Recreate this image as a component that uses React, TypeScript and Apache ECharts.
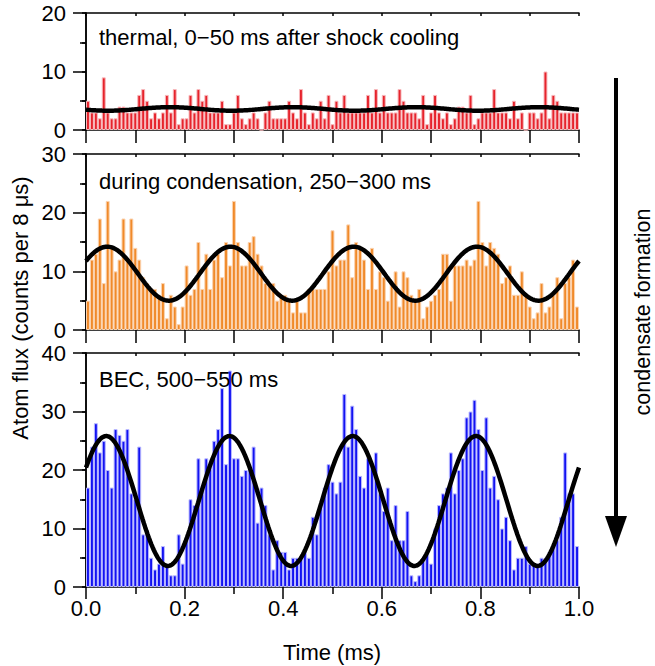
import React, { useEffect, useRef } from "react";
import * as echarts from "echarts";

// Histogram: 125 bins of 8 µs over 0–1 ms (counts per bin)
const binWidthMs = 0.008;
const binStarts: string[] = Array.from({ length: 125 }, (_, i) => (i * binWidthMs).toFixed(3));

const thermalCounts = [
  5, 3, 3, 2, 9, 3, 2, 2, 4, 4,
  3, 3, 3, 6, 7, 5, 2, 3, 2, 3,
  6, 3, 7, 1, 2, 2, 6, 3, 7, 5,
  6, 3, 3, 3, 5, 1, 1, 3, 6, 2,
  1, 2, 3, 2, 0, 3, 5, 2, 2, 2,
  2, 5, 3, 2, 7, 3, 1, 3, 2, 5,
  2, 6, 1, 5, 3, 6, 3, 3, 3, 3,
  3, 6, 3, 7, 3, 6, 3, 3, 3, 7,
  5, 3, 3, 3, 2, 6, 1, 3, 6, 3,
  2, 3, 1, 2, 4, 4, 3, 6, 1, 2,
  3, 3, 3, 7, 3, 3, 3, 2, 5, 2,
  3, 0, 3, 3, 2, 3, 10, 2, 6, 5,
  3, 3, 3, 3, 3,
];

const condensationCounts = [
  5, 12, 13, 19, 8, 22, 14, 10, 12, 19,
  12, 19, 14, 12, 9, 8, 7, 7, 6, 8,
  2, 6, 4, 1, 4, 11, 6, 7, 15, 7,
  13, 7, 12, 13, 9, 15, 11, 22, 15, 11,
  11, 15, 16, 13, 11, 8, 8, 8, 5, 6,
  6, 5, 3, 5, 3, 3, 7, 7, 7, 7,
  7, 10, 17, 11, 12, 12, 18, 9, 15, 14,
  12, 7, 14, 7, 10, 9, 5, 8, 10, 4,
  10, 9, 6, 5, 7, 2, 4, 5, 6, 7,
  13, 13, 5, 11, 11, 11, 12, 11, 12, 22,
  15, 11, 15, 14, 13, 8, 9, 11, 6, 6,
  10, 6, 4, 2, 3, 8, 3, 4, 6, 9,
  2, 8, 9, 12, 4,
];

const becCounts = [
  17, 24, 28, 23, 25, 20, 17, 27, 26, 25,
  27, 16, 15, 24, 9, 9, 5, 3, 4, 7,
  4, 2, 2, 9, 4, 8, 15, 14, 22, 17,
  22, 21, 25, 27, 34, 21, 37, 22, 22, 19,
  20, 20, 24, 11, 17, 14, 9, 3, 8, 6,
  6, 3, 5, 5, 5, 6, 5, 12, 9, 14,
  17, 21, 18, 16, 18, 33, 24, 31, 27, 19,
  17, 22, 21, 23, 16, 13, 17, 8, 14, 8,
  8, 13, 2, 1, 2, 5, 6, 4, 10, 14,
  16, 17, 23, 16, 20, 22, 29, 30, 32, 27,
  20, 29, 17, 19, 15, 10, 12, 8, 3, 5,
  5, 7, 4, 4, 4, 5, 5, 6, 7, 8,
  12, 23, 16, 16, 7,
];

// Sinusoidal fit parameters (offset, amplitude, period, time of a maximum)
const fitOffset = [3.6, 9.6, 14.7];
const fitAmplitude = [0.3, 4.6, 11.1];
const fitPeriodMs = [0.25, 0.25, 0.25];
const fitPeakMs = [0.17, 0.043, 0.041];

const panelTitles = [
  "thermal, 0\u221250 ms after shock cooling",
  "during condensation, 250\u2212300 ms",
  "BEC, 500\u2212550 ms",
];
const yMax = [20, 30, 40];
const xTickLabels = ["0.0", "0.2", "0.4", "0.6", "0.8", "1.0"];

const FONT = "'Liberation Sans', Arial, Helvetica, sans-serif";

export default function App() {
  const ref = useRef<HTMLDivElement>(null);
  useEffect(() => {
    if (!ref.current) return;
    const chart = echarts.init(ref.current, undefined, { renderer: "svg" });

    const grids = [
      { left: 86, top: 13, width: 493, height: 117 },
      { left: 86, top: 154, width: 493, height: 176 },
      { left: 86, top: 353, width: 493, height: 234 },
    ];
    const counts = [thermalCounts, condensationCounts, becCounts];
    const barColors = ["#e6232c", "#f08a2a", "#1212f2"];
    const barEdges = ["#f7b9bc", "#fbd3b0", "#babaff"];

    const axisLine = { show: true, lineStyle: { color: "#000", width: 1.5 } };
    const xAxes: any[] = [];
    const yAxes: any[] = [];
    const series: any[] = [];

    grids.forEach((_, g) => {
      const isBottom = g === 2;
      xAxes.push({
        type: "category",
        gridIndex: g,
        data: binStarts,
        show: false,
        boundaryGap: true,
      });
      xAxes.push({
        type: "value",
        gridIndex: g,
        position: "bottom",
        min: 0,
        max: 1,
        interval: isBottom ? 0.2 : 0.1,
        axisLine,
        axisTick: {
          show: true,
          inside: false,
          length: isBottom ? 12 : 13,
          lineStyle: { color: "#000", width: 1.5 },
        },
        minorTick: isBottom
          ? { show: true, splitNumber: 2, length: 7, lineStyle: { color: "#000", width: 1.5 } }
          : { show: false },
        axisLabel: isBottom
          ? {
              show: true,
              fontSize: 22,
              fontFamily: FONT,
              color: "#000",
              margin: 10,
              formatter: (v: number) => {
                const idx = Math.round(v / 0.2);
                return xTickLabels[idx] ?? "";
              },
            }
          : { show: false },
        splitLine: { show: false },
      });
      xAxes.push({
        type: "value",
        gridIndex: g,
        position: "top",
        min: 0,
        max: 1,
        interval: 0.1,
        axisLine,
        axisTick: { show: true, inside: true, length: 3, lineStyle: { color: "#000", width: 1.5 } },
        axisLabel: { show: false },
        splitLine: { show: false },
      });
      yAxes.push({
        type: "value",
        gridIndex: g,
        position: "left",
        min: 0,
        max: yMax[g],
        interval: 10,
        axisLine,
        axisTick: { show: true, inside: false, length: 13, lineStyle: { color: "#000", width: 1.5 } },
        minorTick: { show: true, splitNumber: 2, length: 6, lineStyle: { color: "#000", width: 1.5 } },
        axisLabel: { show: true, fontSize: 22, fontFamily: FONT, color: "#000", margin: 20 },
        splitLine: { show: false },
      });
      yAxes.push({
        type: "value",
        gridIndex: g,
        position: "right",
        min: 0,
        max: yMax[g],
        interval: 5,
        axisLine,
        axisTick: { show: true, inside: true, length: 4, lineStyle: { color: "#000", width: 1.5 } },
        axisLabel: { show: false },
        splitLine: { show: false },
      });

      series.push({
        type: "bar",
        xAxisIndex: g * 3,
        yAxisIndex: g * 2,
        data: counts[g],
        barCategoryGap: "0%",
        itemStyle: { color: barColors[g], borderColor: barEdges[g], borderWidth: 1 },
        z: 2,
      });

      const fit: number[][] = [];
      for (let k = 0; k <= 400; k++) {
        const t = k / 400;
        fit.push([
          t,
          fitOffset[g] + fitAmplitude[g] * Math.cos((2 * Math.PI * (t - fitPeakMs[g])) / fitPeriodMs[g]),
        ]);
      }
      series.push({
        type: "line",
        xAxisIndex: g * 3 + 1,
        yAxisIndex: g * 2,
        data: fit,
        showSymbol: false,
        symbol: "none",
        lineStyle: { color: "#000", width: 4.5 },
        z: 5,
      });
    });

    const titleY = [38, 182, 380];
    const graphic: any[] = panelTitles.map((t, i) => ({
      type: "text",
      left: 99,
      top: titleY[i] - 12,
      style: { text: t, fontSize: 22, fontFamily: FONT, fill: "#000" },
      z: 10,
    }));
    graphic.push({
      type: "text",
      x: 20,
      y: 308,
      rotation: Math.PI / 2,
      style: {
        text: "Atom flux (counts per 8 \u03bcs)",
        fontSize: 22,
        fontFamily: FONT,
        fill: "#000",
        align: "center",
        verticalAlign: "middle",
      },
    });
    graphic.push({
      type: "text",
      x: 332,
      y: 652,
      style: {
        text: "Time (ms)",
        fontSize: 22,
        fontFamily: FONT,
        fill: "#000",
        align: "center",
        verticalAlign: "middle",
      },
    });
    graphic.push({
      type: "text",
      x: 643,
      y: 312,
      rotation: Math.PI / 2,
      style: {
        text: "condensate formation",
        fontSize: 21.5,
        lineHeight: 22,
        fontFamily: FONT,
        fill: "#000",
        align: "center",
        verticalAlign: "middle",
      },
    });
    graphic.push({
      type: "line",
      shape: { x1: 616, y1: 78, x2: 616, y2: 520 },
      style: { stroke: "#000", lineWidth: 4 },
    });
    graphic.push({
      type: "polygon",
      shape: { points: [[605, 516], [627, 516], [616, 547]] },
      style: { fill: "#000" },
    });

    chart.setOption({
      animation: false,
      backgroundColor: "#fff",
      grid: grids,
      xAxis: xAxes,
      yAxis: yAxes,
      series,
      graphic,
    });
    return () => chart.dispose();
  }, []);
  return (
    <div
      ref={ref}
      style={{ position: "fixed", left: 0, top: 0, width: 655, height: 666 }}
    />
  );
}
